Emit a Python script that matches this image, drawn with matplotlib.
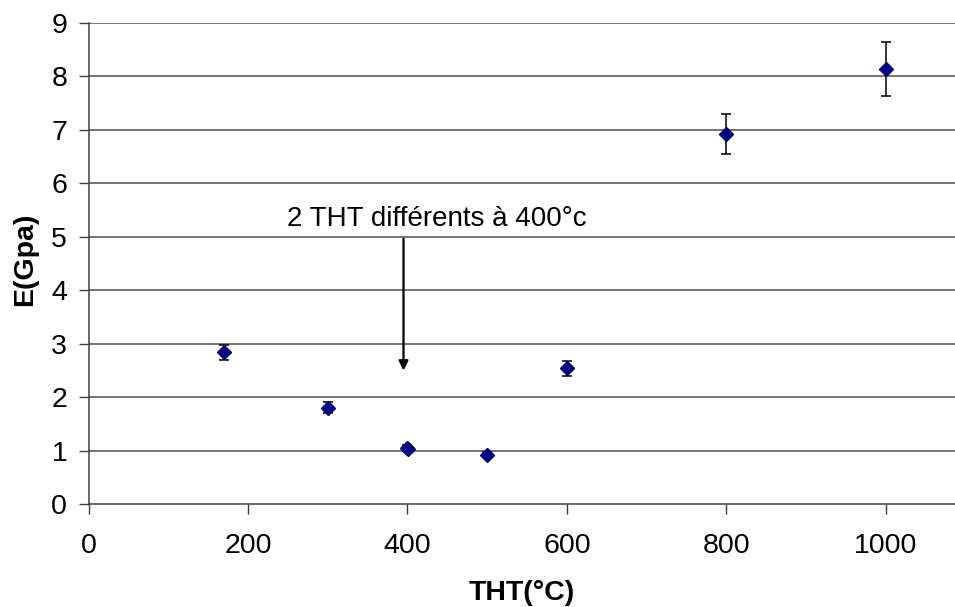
import matplotlib
matplotlib.use("Agg")
import matplotlib.pyplot as plt

# E modulus vs heat treatment temperature
tht = [170, 300, 399, 401, 500, 600, 800, 1000]
e_gpa = [2.84, 1.81, 1.05, 1.03, 0.93, 2.54, 6.92, 8.14]
e_err = [0.14, 0.10, 0.05, 0.05, 0.05, 0.14, 0.37, 0.51]

x_ticks = [0, 200, 400, 600, 800, 1000]
y_ticks = list(range(0, 10))

plt.rcParams["font.family"] = ["Liberation Sans", "DejaVu Sans"]

fig = plt.figure(figsize=(9.55, 6.07), dpi=100)
ax = fig.add_axes([0.0929, 0.1692, 0.9071, 0.7929])

for y in y_ticks[1:]:
    ax.axhline(y, color="#505050", lw=1.1, zorder=1)

ax.errorbar(tht, e_gpa, yerr=e_err, fmt="D", color="#000080", ms=7,
            ecolor="black", elinewidth=1.1, capsize=3.3, capthick=1.1, zorder=3)

ax.annotate("", xy=(395, 2.45), xytext=(395, 5.02),
            arrowprops=dict(arrowstyle="-|>", color="black", lw=1.6, mutation_scale=14))
ax.text(437, 5.33, "2 THT différents à 400°c", ha="center", va="center", fontsize=20)

ax.set_xlim(0, 1087)
ax.set_ylim(0, 9)
ax.set_xticks(x_ticks)
ax.set_yticks(y_ticks)
ax.tick_params(direction="out", length=7, width=1, color="#404040", labelsize=20.5)
ax.tick_params(axis="x", pad=13.5)
ax.tick_params(axis="y", pad=8.5)
for s in ["top", "right"]:
    ax.spines[s].set_visible(False)
for s in ["left", "bottom"]:
    ax.spines[s].set_color("#404040")
    ax.spines[s].set_linewidth(1.1)

ax.set_xlabel("THT(°C)", fontsize=20.5, fontweight="bold", labelpad=15)
ax.set_ylabel("E(Gpa)", fontsize=20.5, fontweight="bold")
ax.yaxis.set_label_coords(-0.058, 0.51)

fig.savefig("out.png", dpi=100)
